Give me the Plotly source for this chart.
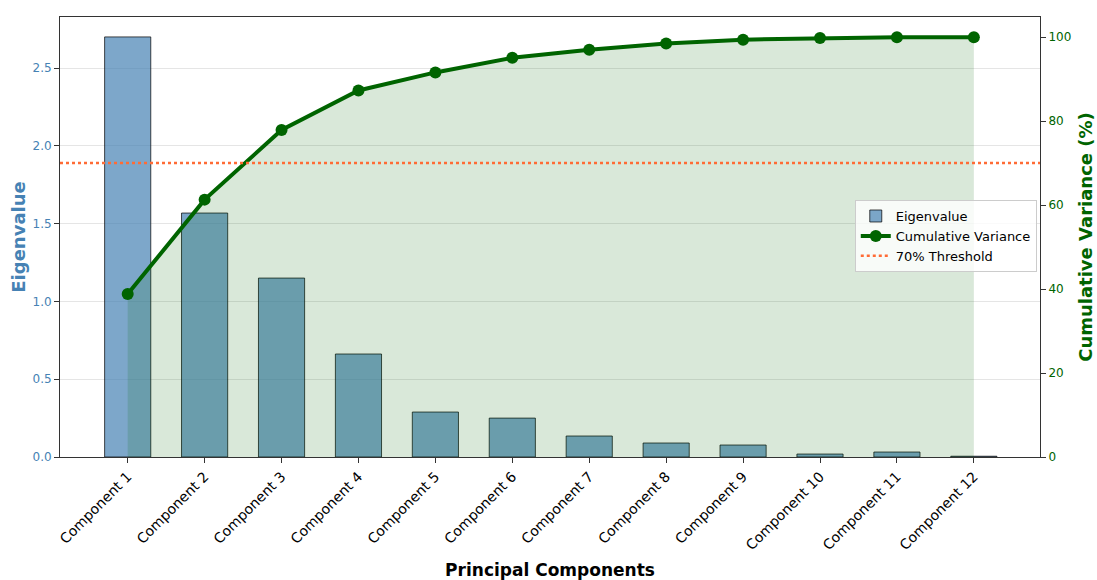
import plotly.graph_objects as go

# Scree plot: eigenvalues per principal component with cumulative explained variance
components = [f"Component {i}" for i in range(1, 13)]
eigenvalues = [2.70, 1.568, 1.150, 0.662, 0.289, 0.250, 0.135, 0.090, 0.077, 0.019, 0.032, 0.005]
cumulative_pct = [38.8, 61.3, 77.9, 87.3, 91.6, 95.1, 97.0, 98.5, 99.4, 99.8, 100.0, 100.0]
threshold_pct = 70

FONT = "DejaVu Sans"
BLUE = "#4682B4"
GREEN = "#006400"
ORANGE = "#FF6B35"

fig = go.Figure()

fig.add_trace(go.Bar(
    x=components, y=eigenvalues, name="Eigenvalue", width=0.6,
    marker=dict(color="rgba(70,130,180,0.7)",
                line=dict(color="rgba(0,0,0,0.7)", width=1)),
    yaxis="y",
))

# shaded area under the cumulative curve
fig.add_trace(go.Scatter(
    x=components, y=cumulative_pct, mode="lines", fill="tozeroy",
    fillcolor="rgba(0,100,0,0.15)", line=dict(width=0.6, color="rgba(0,100,0,0.15)"),
    showlegend=False, hoverinfo="skip", yaxis="y2",
))

fig.add_trace(go.Scatter(
    x=components, y=cumulative_pct, mode="lines+markers", name="Cumulative Variance",
    line=dict(color=GREEN, width=4), marker=dict(color=GREEN, size=12),
    yaxis="y2",
))

fig.add_shape(
    type="line", xref="paper", x0=0, x1=1, yref="y2", y0=threshold_pct, y1=threshold_pct,
    line=dict(color=ORANGE, width=2.5, dash="dot"),
    showlegend=True, name="70% Threshold",
)

fig.update_layout(
    width=1097, height=580,
    margin=dict(l=60, r=57, t=17, b=123),
    plot_bgcolor="white", paper_bgcolor="white",
    font=dict(family=FONT, size=12, color="black"),
    bargap=0.4,
    xaxis=dict(
        range=[-0.88, 11.86], tickangle=-45, showgrid=False, automargin=False,
        showline=True, linecolor="#333", linewidth=1, mirror=True,
        ticks="outside", ticklen=5, tickcolor="#333",
        tickfont=dict(family=FONT, size=14, color="black"),
        title=dict(text="<b>Principal Components</b>", font=dict(family=FONT, size=17, color="black"), standoff=13),
    ),
    yaxis=dict(
        range=[0, 2.828], dtick=0.5, tickformat=".1f", automargin=False,
        showgrid=True, gridcolor="rgba(0,0,0,0.1)", gridwidth=1, zeroline=False,
        showline=True, linecolor="#333", linewidth=1,
        ticks="outside", ticklen=5, tickcolor="#333",
        tickfont=dict(family=FONT, size=12, color=BLUE),
        title=dict(text="<b>Eigenvalue</b>", font=dict(family=FONT, size=18, color=BLUE), standoff=2),
    ),
    yaxis2=dict(
        range=[0, 104.8], dtick=20, overlaying="y", side="right", automargin=False,
        showgrid=False, zeroline=False,
        showline=True, linecolor="#333", linewidth=1,
        ticks="outside", ticklen=5, tickcolor="#333",
        tickfont=dict(family=FONT, size=12, color=GREEN),
        title=dict(text="<b>Cumulative Variance (%)</b>", font=dict(family=FONT, size=18, color=GREEN), standoff=9),
    ),
    legend=dict(
        x=0.811, y=0.584, xanchor="left", yanchor="top",
        bgcolor="rgba(255,255,255,0.8)", bordercolor="#cccccc", borderwidth=1,
        font=dict(family=FONT, size=13, color="black"),
        tracegroupgap=0, itemwidth=30,
    ),
)

fig.write_html("out.html")
